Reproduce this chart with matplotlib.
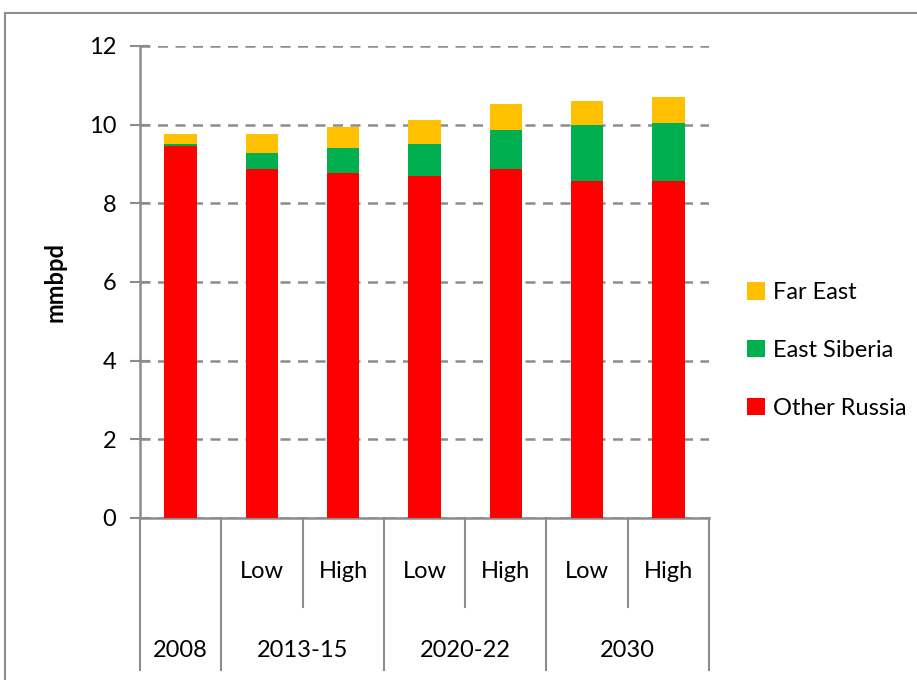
import numpy as np
import matplotlib.pyplot as plt
from matplotlib.patches import Rectangle

plt.rcParams['font.family'] = ['Lato', 'DejaVu Sans']

sub_labels = ['', 'Low', 'High', 'Low', 'High', 'Low', 'High']
groups = ['2008', '2013-15', '2020-22', '2030']
group_spans = [(0, 0), (1, 2), (3, 4), (5, 6)]

other_russia = [9.47, 8.87, 8.76, 8.69, 8.87, 8.58, 8.58]
east_siberia = [0.05, 0.42, 0.64, 0.83, 1.00, 1.41, 1.47]
far_east = [0.24, 0.47, 0.53, 0.60, 0.66, 0.60, 0.66]

colors = {'Other Russia': '#FF0000', 'East Siberia': '#00B050', 'Far East': '#FFC000'}
grey = '#8c8c8c'
fs = 17

fig = plt.figure(figsize=(9.17, 6.8), dpi=100)
ax = fig.add_axes([140 / 917, 1 - 518 / 680, 569 / 917, 472 / 680])

# outer chart frame
fig.patches.append(Rectangle((5 / 917, -0.2), 1.2, 1.2 - 13 / 680,
                             transform=fig.transFigure, fill=False,
                             edgecolor=grey, lw=1.5))

x = np.arange(len(sub_labels))
w = 0.4
b1 = ax.bar(x, other_russia, w, color=colors['Other Russia'], label='Other Russia', zorder=3)
bottom2 = np.array(other_russia)
b2 = ax.bar(x, east_siberia, w, bottom=bottom2, color=colors['East Siberia'],
            label='East Siberia', zorder=3)
bottom3 = bottom2 + np.array(east_siberia)
b3 = ax.bar(x, far_east, w, bottom=bottom3, color=colors['Far East'],
            label='Far East', zorder=3)

ax.set_xlim(-0.5, 6.5)
ax.set_ylim(0, 12)
ax.set_yticks(range(0, 13, 2))
ax.tick_params(axis='y', direction='inout', length=14, width=1.5, color=grey,
               labelsize=fs, pad=10)
ax.tick_params(axis='x', bottom=False, labelbottom=False)
ax.yaxis.grid(True, linestyle=(0, (4, 3)), color=grey, lw=1.8)
ax.set_axisbelow(True)
for s in ['top', 'right']:
    ax.spines[s].set_visible(False)
for s in ['left', 'bottom']:
    ax.spines[s].set_color(grey)
    ax.spines[s].set_linewidth(1.8)

ax.set_ylabel('mmbpd', fontsize=fs, fontweight='bold', labelpad=16)

# multi-level category axis
trans = ax.get_xaxis_transform()
for i, lab in enumerate(sub_labels):
    if lab:
        ax.text(i, -0.113, lab, transform=trans, ha='center', va='center', fontsize=fs)
for (a, b), g in zip(group_spans, groups):
    ax.text((a + b) / 2, -0.28, g, transform=trans, ha='center', va='center', fontsize=fs)
for xb in [1.5, 3.5, 5.5]:
    ax.plot([xb, xb], [0, -0.189], transform=trans, color=grey, lw=1.5, clip_on=False)
for xb in [-0.5, 0.5, 2.5, 4.5, 6.5]:
    ax.plot([xb, xb], [0, -0.322], transform=trans, color=grey, lw=1.5, clip_on=False)

ax.legend(handles=[b3, b2, b1], loc='center left', bbox_to_anchor=(1.03, 0.355),
          frameon=False, fontsize=fs, handlelength=0.75, handleheight=0.75,
          labelspacing=1.55, handletextpad=0.35)

fig.savefig('out.png', dpi=100)
